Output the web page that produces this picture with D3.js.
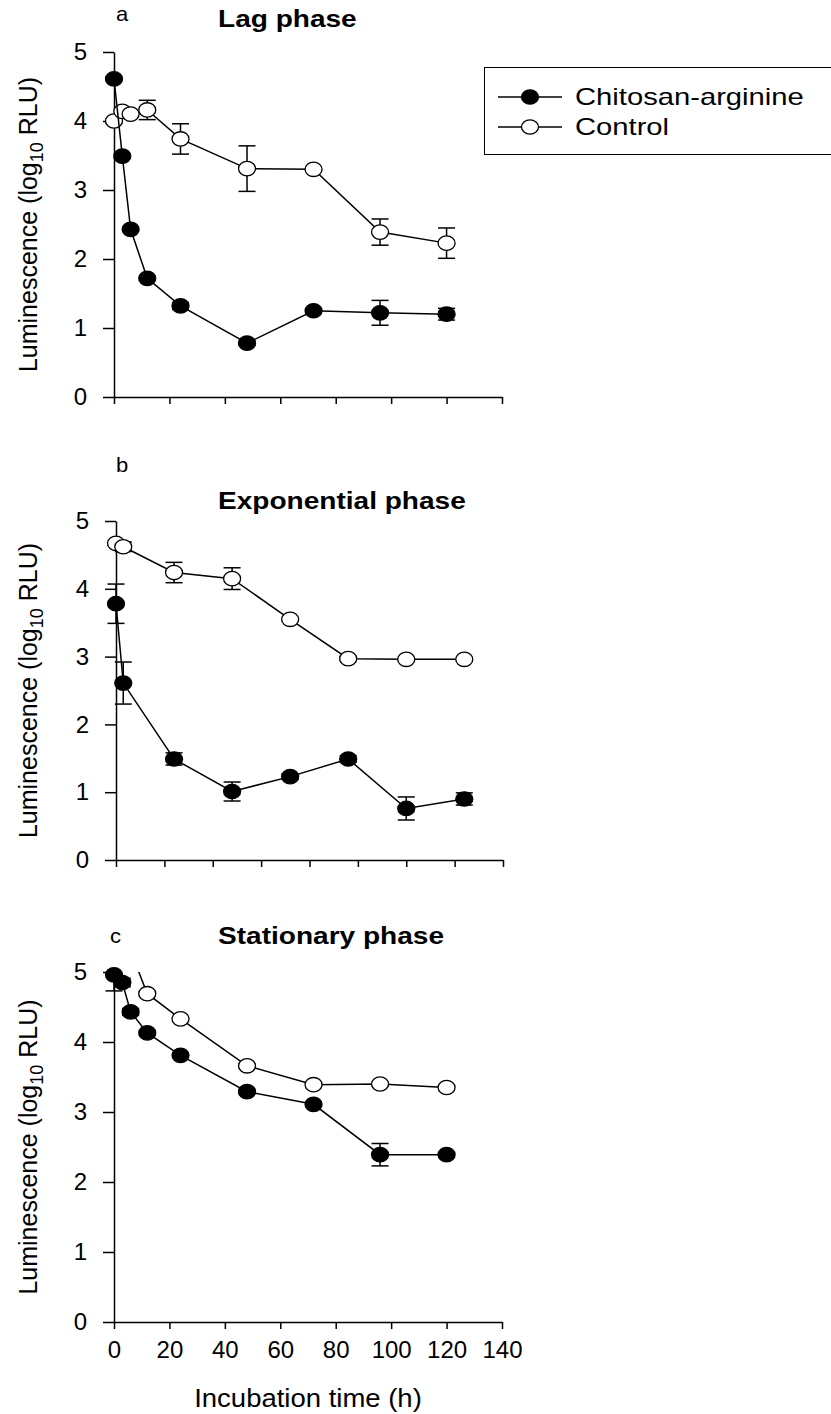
<!DOCTYPE html>
<html>
<head>
<meta charset="utf-8">
<script src="https://cdn.jsdelivr.net/npm/d3@7"></script>
<style>
  html, body { margin: 0; padding: 0; background: #fff; }
  svg { display: block; font-family: "Liberation Sans", Arial, Helvetica, sans-serif; }
</style>
</head>
<body>
<svg id="chart" width="831" height="1414"></svg>
<script>
// ---- Data: log10 RLU over incubation time (h), mean and error ----
// a) Lag phase
const lagTime = [0, 3, 6, 12, 24, 48, 72, 96, 120];
const lagChitosan = [4.61, 3.49, 2.43, 1.72, 1.32, 0.78, 1.25, 1.22, 1.20];
const lagChitosanErr = [0.02, 0.03, 0.03, 0.03, 0.05, 0.03, 0.03, 0.18, 0.085];
const lagControl = [4.00, 4.14, 4.10, 4.16, 3.74, 3.31, 3.30, 2.39, 2.23];
const lagControlErr = [0.03, 0.03, 0.03, 0.14, 0.22, 0.33, 0.03, 0.19, 0.22];

// b) Exponential phase
const expTime = [0, 3, 24, 48, 72, 96, 120, 144];
const expChitosan = [3.78, 2.61, 1.49, 1.01, 1.23, 1.49, 0.76, 0.90];
const expChitosanErr = [0.29, 0.31, 0.09, 0.14, 0.04, 0.05, 0.17, 0.09];
const expControl = [4.67, 4.62, 4.24, 4.15, 3.55, 2.97, 2.96, 2.96];
const expControlErr = [0.03, 0.07, 0.15, 0.16, 0.03, 0.03, 0.03, 0.03];

// c) Stationary phase
const statTime = [0, 3, 6, 12, 24, 48, 72, 96, 120];
const statChitosan = [4.96, 4.85, 4.43, 4.13, 3.81, 3.29, 3.11, 2.39, 2.39];
const statChitosanErr = [0.23, 0.06, 0.05, 0.03, 0.03, 0.03, 0.03, 0.16, 0.03];
const statControlTime = [6, 12, 24, 48, 72, 96, 120];
const statControl = [5.30, 4.69, 4.33, 3.66, 3.39, 3.40, 3.35];
const statControlErr = [0.03, 0.03, 0.03, 0.03, 0.03, 0.03, 0.03];

// Axis ticks and labels
const yTicks = [0, 1, 2, 3, 4, 5];
const xTicks140 = [0, 20, 40, 60, 80, 100, 120, 140];
const xTicks160 = [0, 20, 40, 60, 80, 100, 120, 140, 160];
const seriesNames = ["Chitosan-arginine", "Control"];
const panelLetters = ["a", "b", "c"];
const panelTitles = ["Lag phase", "Exponential phase", "Stationary phase"];
const yTitleParts = ["Luminescence (log", "10", " RLU)"];
const xTitle = "Incubation time (h)";

const zip = (t, v, e) => t.map((d, i) => ({ t: d, v: v[i], e: e[i] }));

const panels = [
  {
    letter: panelLetters[0], title: panelTitles[0],
    xDomain: [0, 140], xTicks: xTicks140, xRange: [114, 502], yRange: [397, 52],
    xLabels: false,
    chitosan: zip(lagTime, lagChitosan, lagChitosanErr),
    control: zip(lagTime, lagControl, lagControlErr),
    letterPos: [116, 21], titleY: 27
  },
  {
    letter: panelLetters[1], title: panelTitles[1],
    xDomain: [0, 160], xTicks: xTicks160, xRange: [116, 503], yRange: [860, 521],
    xLabels: false,
    chitosan: zip(expTime, expChitosan, expChitosanErr),
    control: zip(expTime, expControl, expControlErr),
    letterPos: [116, 472], titleY: 509
  },
  {
    letter: panelLetters[2], title: panelTitles[2],
    xDomain: [0, 140], xTicks: xTicks140, xRange: [114, 502], yRange: [1322, 972],
    xLabels: true,
    chitosan: zip(statTime, statChitosan, statChitosanErr),
    control: zip(statControlTime, statControl, statControlErr),
    letterPos: [110, 943], titleY: 944
  }
];

const svg = d3.select("#chart");
const FS = 24;
const rx = 8.5, ry = 7.2, cap = 8.5;
const WIDE = 1.22;   // horizontal stretch used by the figure's annotation text

// text helper with horizontal stretch
function wideText(sel, x, y, str, size, opts = {}) {
  const t = sel.append("text")
    .attr("transform", `translate(${x},${y}) scale(${opts.sx || WIDE},1)`)
    .attr("font-size", size)
    .text(str);
  if (opts.bold) t.attr("font-weight", "bold");
  if (opts.anchor) t.attr("text-anchor", opts.anchor);
  return t;
}

panels.forEach((p, pi) => {
  const x = d3.scaleLinear().domain(p.xDomain).range(p.xRange);
  const y = d3.scaleLinear().domain([0, 5]).range(p.yRange);
  const g = svg.append("g");

  // clip for lines / error bars to the plotting area
  const clipId = "clip" + pi;
  svg.append("clipPath").attr("id", clipId)
    .append("rect")
    .attr("x", p.xRange[0] - 20).attr("y", y(5))
    .attr("width", p.xRange[1] - p.xRange[0] + 40)
    .attr("height", y(0) - y(5));

  // y axis
  const ya = g.append("g")
    .attr("transform", `translate(${p.xRange[0]},0)`)
    .call(d3.axisLeft(y).tickValues(yTicks).tickSize(11).tickPadding(16)
      .tickSizeOuter(0).tickFormat(d3.format("d")));
  ya.select(".domain").attr("stroke-width", 1.5);
  ya.selectAll(".tick line").attr("stroke-width", 1.5);
  ya.selectAll(".tick text").attr("font-size", FS).attr("font-family", null).attr("fill", "#000");

  // x axis
  const xa = g.append("g")
    .attr("transform", `translate(0,${y(0)})`)
    .call(d3.axisBottom(x).tickValues(p.xTicks).tickSize(7).tickPadding(12).tickSizeOuter(0)
      .tickFormat(p.xLabels ? d3.format("d") : () => ""));
  xa.select(".domain").attr("stroke-width", 1.5);
  xa.selectAll(".tick line").attr("stroke-width", 1.5);
  xa.selectAll(".tick text").attr("font-size", FS).attr("font-family", null).attr("fill", "#000");

  // y axis title
  const cy = (p.yRange[0] + p.yRange[1]) / 2;
  const yt = g.append("text")
    .attr("transform", `translate(37,${cy}) rotate(-90)`)
    .attr("text-anchor", "middle")
    .attr("font-size", 25);
  yt.append("tspan").text(yTitleParts[0]);
  yt.append("tspan").attr("font-size", 18).attr("dy", 6).text(yTitleParts[1]);
  yt.append("tspan").attr("dy", -6).text(yTitleParts[2]);

  // panel letter and title
  wideText(g, p.letterPos[0], p.letterPos[1], p.letter, 20, { sx: 1.1 });
  wideText(g, 218, p.titleY, p.title, 23, { bold: true });

  const line = d3.line().x(d => x(d.t)).y(d => y(d.v));

  [["control", "#fff"], ["chitosan", "#000"]].forEach(([key, fill]) => {
    const data = p[key];
    const s = g.append("g");
    s.append("path").datum(data)
      .attr("clip-path", `url(#${clipId})`)
      .attr("d", line).attr("fill", "none").attr("stroke", "#000").attr("stroke-width", 1.5);

    const eb = s.append("g").attr("clip-path", `url(#${clipId})`)
      .attr("stroke", "#000").attr("stroke-width", 1.5);
    data.forEach(d => {
      eb.append("line").attr("x1", x(d.t)).attr("x2", x(d.t))
        .attr("y1", y(d.v - d.e)).attr("y2", y(d.v + d.e));
      [d.v - d.e, d.v + d.e].forEach(v => {
        eb.append("line").attr("x1", x(d.t) - cap).attr("x2", x(d.t) + cap)
          .attr("y1", y(v)).attr("y2", y(v));
      });
    });

    s.selectAll("ellipse").data(data.filter(d => d.v <= 5))
      .join("ellipse")
      .attr("cx", d => x(d.t)).attr("cy", d => y(d.v))
      .attr("rx", rx).attr("ry", ry)
      .attr("fill", fill).attr("stroke", "#000").attr("stroke-width", 1.3);
  });

  if (p.xLabels) {
    wideText(g, (p.xRange[0] + p.xRange[1]) / 2, 1407, xTitle, 25, { anchor: "middle", sx: 1.1 });
  }
});

// legend
const lg = svg.append("g");
lg.append("rect").attr("x", 484.5).attr("y", 67.5).attr("width", 360).attr("height", 87)
  .attr("fill", "none").attr("stroke", "#000").attr("stroke-width", 1);
[["#000", 97], ["#fff", 127]].forEach(([fill, yy], i) => {
  lg.append("line").attr("x1", 498).attr("x2", 562).attr("y1", yy).attr("y2", yy)
    .attr("stroke", "#000").attr("stroke-width", 1.5);
  lg.append("ellipse").attr("cx", 530).attr("cy", yy).attr("rx", rx).attr("ry", ry)
    .attr("fill", fill).attr("stroke", "#000").attr("stroke-width", 1.3);
  wideText(lg, 575, yy + 8, seriesNames[i], 23, { sx: 1.27 });
});
</script>
</body>
</html>
